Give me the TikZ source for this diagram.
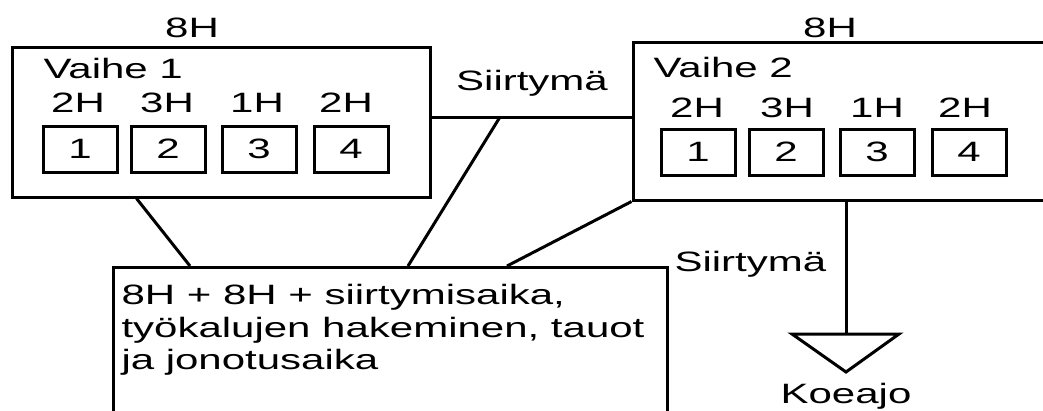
\documentclass[tikz,border=0pt]{standalone}
\usepackage{fontspec}
\setmainfont{Liberation Sans}[FakeStretch=1.5]
\begin{document}
\begin{tikzpicture}[x=1pt,y=-1pt,line width=3pt,
    every node/.style={font=\fontsize{28}{32.5}\selectfont,inner sep=0pt},
    phase/.style={draw,rectangle},
    task/.style={draw,rectangle,minimum width=74pt,minimum height=46pt},
    lbl/.style={anchor=base}]
                \useasboundingbox (0,0) rectangle (1043,410);
                \clip (0,0) rectangle (1043,410);
                %NODE
                \node[phase,minimum width=418pt,minimum height=150pt] (v1) at (221,122){};
                \node[phase,minimum width=426pt,minimum height=158pt] (v2) at (846,121){};
                \node[phase,minimum width=554pt,minimum height=180pt,anchor=north west] (sum) at (112,266){};
                \node[lbl] (h1) at (192,37){8H};
                \node[lbl] (h2) at (830,37){8H};
                \node[anchor=base west] (n1) at (42,78){Vaihe 1};
                \node[anchor=base west] (n2) at (652,77){Vaihe 2};
                \node[lbl] (ha1) at (78,112){2H};
                \node[lbl] (ha2) at (167,112){3H};
                \node[lbl] (ha3) at (257,112){1H};
                \node[lbl] (ha4) at (346,112){2H};
                \node[lbl] (hb1) at (697,117){2H};
                \node[lbl] (hb2) at (787,117){3H};
                \node[lbl] (hb3) at (877,117){1H};
                \node[lbl] (hb4) at (965,117){2H};
                \node[task] (a1) at (80,149){1};
                \node[task] (a2) at (168,149){2};
                \node[task] (a3) at (259,149){3};
                \node[task] (a4) at (351,149){4};
                \node[task] (b1) at (698,152){1};
                \node[task] (b2) at (786,152){2};
                \node[task] (b3) at (877,152){3};
                \node[task] (b4) at (969,152){4};
                \node[lbl] (s1) at (532,90){Siirtymä};
                \node[anchor=base west] (s2) at (673,271){Siirtymä};
                \node[lbl] (k) at (846,403){Koeajo};
                \node[anchor=north west,align=left] (sumtext) at (120,283){8H + 8H + siirtymisaika,\\työkalujen hakeminen, tauot\\ja jonotusaika};
                \coordinate (tr) at (500,117);
                \coordinate (koe) at (846,334);
                
                %EDGE
                \draw (v1.east |- tr) -- (tr) -- (v2.west |- tr);
                \draw ([xshift=126pt]v1.south west) -- ([xshift=78pt]sum.north west);
                \draw (tr) -- ([xshift=296pt]sum.north west);
                \draw (v2.south west) -- ([xshift=395pt]sum.north west);
                \draw (v2.south) -- (koe);
                \draw (792,334) -- (899,334) -- (846,372) -- cycle;
            \end{tikzpicture}
\end{document}
